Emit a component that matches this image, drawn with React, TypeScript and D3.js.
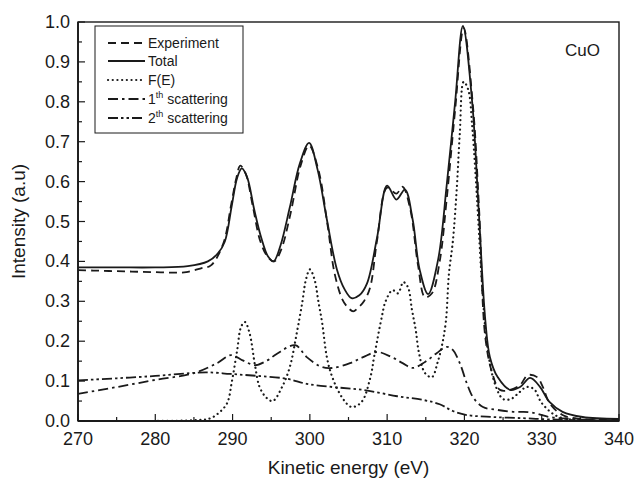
import React from "react";
import * as d3 from "d3";

const xTicks = [270, 280, 290, 300, 310, 320, 330, 340];
const yTicks = [0, 0.1, 0.2, 0.3, 0.4, 0.5, 0.6, 0.7, 0.8, 0.9, 1.0];

const expX = [270, 272, 274, 276, 278, 280, 282, 284, 286, 287.2, 288.8, 289.8, 290.5, 291.0, 291.7, 292.6, 293.6, 294.6, 295.4, 296.3, 297.5, 298.8, 299.9, 301.1, 302.3, 303.2, 304.2, 304.9, 305.6, 306.2, 307.0, 307.8, 308.7, 310.0, 311.2, 312.0, 313.0, 314.0, 314.9, 315.8, 316.8, 317.7, 318.8, 319.9, 321.1, 321.9, 322.7, 323.6, 324.6, 325.9, 327.2, 328.2, 329.4, 330.2, 331, 332.7, 335, 340];
const expY = [0.378, 0.377, 0.376, 0.375, 0.374, 0.373, 0.372, 0.373, 0.383, 0.39, 0.445, 0.54, 0.61, 0.64, 0.62, 0.54, 0.45, 0.41, 0.40, 0.43, 0.52, 0.64, 0.69, 0.63, 0.49, 0.37, 0.305, 0.285, 0.275, 0.283, 0.30, 0.335, 0.453, 0.585, 0.57, 0.587, 0.53, 0.39, 0.31, 0.32, 0.40, 0.555, 0.78, 0.985, 0.79, 0.53, 0.21, 0.12, 0.078, 0.078, 0.09, 0.115, 0.11, 0.083, 0.045, 0.015, 0.005, 0.003];

const totX = [270, 275, 280, 284.2, 286.8, 288.1, 289.0, 289.9, 290.6, 291.2, 291.9, 292.8, 293.7, 294.6, 295.3, 296.2, 297.4, 298.7, 299.9, 301.0, 302.2, 303.5, 304.5, 305.4, 306.4, 307.4, 308.7, 310.0, 311.2, 312.3, 313.3, 314.2, 315.3, 316.6, 317.7, 318.8, 319.8, 321.0, 321.8, 322.7, 323.3, 324.3, 325.9, 327.2, 328.5, 329.8, 331, 332.7, 335.3, 340];
const totY = [0.385, 0.385, 0.385, 0.388, 0.40, 0.42, 0.45, 0.54, 0.61, 0.633, 0.61, 0.53, 0.46, 0.412, 0.40, 0.44, 0.535, 0.645, 0.697, 0.63, 0.505, 0.38, 0.33, 0.308, 0.315, 0.345, 0.46, 0.59, 0.555, 0.58, 0.505, 0.38, 0.318, 0.405, 0.59, 0.80, 0.99, 0.80, 0.545, 0.253, 0.16, 0.11, 0.078, 0.085, 0.108, 0.085, 0.048, 0.023, 0.01, 0.005];

const feX = [270, 280, 285, 287, 288.2, 289.3, 289.9, 290.6, 291.1, 291.6, 292.2, 292.9, 293.5, 294.4, 295.2, 296.4, 297.4, 298.3, 299.0, 299.5, 300.0, 300.6, 301.1, 301.6, 302.2, 302.9, 304.2, 305.4, 306.7, 307.8, 308.4, 309.3, 309.8, 310.7, 311.4, 312.1, 312.7, 313.2, 313.7, 314.1, 314.9, 315.8, 316.5, 317.1, 317.6, 318.0, 318.5, 319.0, 319.4, 319.9, 320.5, 321.0, 321.4, 321.8, 322.3, 323, 324, 325, 326, 327, 328, 329, 330, 332, 335, 340];
const feY = [0, 0, 0.002, 0.006, 0.02, 0.045, 0.098, 0.178, 0.236, 0.248, 0.22, 0.14, 0.085, 0.058, 0.05, 0.085, 0.135, 0.22, 0.295, 0.355, 0.38, 0.355, 0.30, 0.245, 0.16, 0.11, 0.058, 0.035, 0.048, 0.107, 0.17, 0.26, 0.30, 0.328, 0.32, 0.348, 0.335, 0.28, 0.228, 0.173, 0.12, 0.11, 0.145, 0.19, 0.25, 0.37, 0.45, 0.58, 0.72, 0.85, 0.83, 0.74, 0.63, 0.50, 0.336, 0.18, 0.09, 0.055, 0.055, 0.07, 0.085, 0.08, 0.045, 0.012, 0.002, 0];

const s1X = [270, 275, 280, 285, 288, 289.8, 291.3, 292.9, 294.5, 295.7, 298.1, 299.6, 301.6, 303.0, 305.2, 306.9, 308.7, 310.6, 312.0, 313.3, 314.9, 316.4, 317.7, 318.5, 319.4, 320.3, 321.1, 322.4, 324.2, 326.3, 328.5, 331, 333.3, 336, 340];
const s1Y = [0.068, 0.085, 0.103, 0.12, 0.145, 0.165, 0.152, 0.14, 0.152, 0.168, 0.19, 0.16, 0.135, 0.133, 0.145, 0.16, 0.173, 0.16, 0.145, 0.133, 0.148, 0.17, 0.186, 0.178, 0.145, 0.095, 0.06, 0.035, 0.028, 0.023, 0.022, 0.01, 0.006, 0.003, 0.001];

const s2X = [270, 275, 280, 284.5, 286.7, 289.7, 293.2, 297.0, 299.6, 303.0, 306.9, 311.3, 314.6, 316.8, 318.5, 320.3, 323.7, 327.6, 331, 335, 340];
const s2Y = [0.102, 0.107, 0.113, 0.12, 0.122, 0.118, 0.113, 0.106, 0.093, 0.085, 0.078, 0.062, 0.053, 0.042, 0.025, 0.015, 0.01, 0.007, 0.004, 0.002, 0.001];

const W = 635, H = 480;
const L = 78, R = 619, T = 22, B = 421;
const INK = "#1a1a1a";
const FONT = "'Liberation Sans', Arial, sans-serif";

export default function App() {
  const x = d3.scaleLinear().domain([270, 340]).range([L, R]);
  const y = d3.scaleLinear().domain([0, 1]).range([B, T]);
  const line = d3
    .line<[number, number]>()
    .x((d) => x(d[0]))
    .y((d) => y(d[1]))
    .curve(d3.curveCatmullRom.alpha(0.5));
  const zip = (a: number[], b: number[]) => a.map((v, i) => [v, b[i]] as [number, number]);

  const series = [
    { name: "Experiment", d: line(zip(expX, expY)), dash: "8 5", w: 1.8, cap: "butt" },
    { name: "Total", d: line(zip(totX, totY)), dash: "none", w: 1.8, cap: "butt" },
    { name: "F(E)", d: line(zip(feX, feY)), dash: "0.1 4.6", w: 2.2, cap: "round" },
    { name: "s1", d: line(zip(s1X, s1Y)), dash: "10 4 2.5 4", w: 1.8, cap: "butt" },
    { name: "s2", d: line(zip(s2X, s2Y)), dash: "10 3 2.5 3 2.5 3", w: 1.8, cap: "butt" },
  ];

  const xMinor = d3.range(275, 340, 10);
  const yMinor = d3.range(0.05, 1, 0.1);

  const legY = [43, 61, 80, 99, 118];

  return (
    <svg width={W} height={H} style={{ position: "absolute", left: 0, top: 0, background: "#fff" }} fontFamily={FONT}>
      <rect x={0} y={0} width={W} height={H} fill="#fff" />
      <defs>
        <clipPath id="plot">
          <rect x={L} y={T - 2} width={R - L} height={B - T + 2} />
        </clipPath>
      </defs>
      <g clipPath="url(#plot)">
        {series.map((s) => (
          <path key={s.name} d={s.d || ""} fill="none" stroke={INK} strokeWidth={s.w}
            strokeDasharray={s.dash} strokeLinecap={s.cap as any} strokeLinejoin="round" />
        ))}
      </g>
      <rect x={L} y={T} width={R - L} height={B - T} fill="none" stroke={INK} strokeWidth={1.4} />
      <line x1={L} x2={R} y1={B} y2={B} stroke={INK} strokeWidth={2.2} />
      <line x1={L} x2={L} y1={T} y2={B} stroke={INK} strokeWidth={1.8} />
      {xTicks.map((t) => (
        <g key={"xt" + t}>
          <line x1={x(t)} x2={x(t)} y1={B} y2={B - 7} stroke={INK} strokeWidth={1.2} />
          <text x={x(t)} y={B + 24} textAnchor="middle" fontSize={18} fill={INK}>{t}</text>
        </g>
      ))}
      {xMinor.map((t) => (
        <line key={"xm" + t} x1={x(t)} x2={x(t)} y1={B} y2={B - 4} stroke={INK} strokeWidth={1.2} />
      ))}
      {yTicks.map((t) => (
        <g key={"yt" + t}>
          <line x1={L} x2={L + 7} y1={y(t)} y2={y(t)} stroke={INK} strokeWidth={1.2} />
          <text x={L - 8} y={y(t) + 6} textAnchor="end" fontSize={18} fill={INK}>{t.toFixed(1)}</text>
        </g>
      ))}
      {yMinor.map((t) => (
        <line key={"ym" + t} x1={L} x2={L + 4} y1={y(t)} y2={y(t)} stroke={INK} strokeWidth={1.2} />
      ))}
      <text x={(L + R) / 2} y={474} textAnchor="middle" fontSize={19} fill={INK}>Kinetic energy (eV)</text>
      <text transform={`translate(25,${(T + B) / 2}) rotate(-90)`} textAnchor="middle" fontSize={19} fill={INK}>Intensity (a.u)</text>
      <text x={600} y={56} textAnchor="end" fontSize={17} fill={INK}>CuO</text>
      <rect x={95} y={26} width={148} height={107} fill="#fff" stroke={INK} strokeWidth={1} />
      {series.map((s, i) => (
        <line key={"lg" + i} x1={108} x2={145} y1={legY[i]} y2={legY[i]} stroke={INK} strokeWidth={s.w}
          strokeDasharray={s.dash} strokeLinecap={s.cap as any} />
      ))}
      <text x={148} y={legY[0] + 5} fontSize={14} fill={INK}>Experiment</text>
      <text x={148} y={legY[1] + 5} fontSize={14} fill={INK}>Total</text>
      <text x={148} y={legY[2] + 5} fontSize={14} fill={INK}>F(E)</text>
      <text x={148} y={legY[3] + 5} fontSize={14} fill={INK}>
        1<tspan fontSize={9} dy={-6}>th</tspan><tspan dy={6}> scattering</tspan>
      </text>
      <text x={148} y={legY[4] + 5} fontSize={14} fill={INK}>
        2<tspan fontSize={9} dy={-6}>th</tspan><tspan dy={6}> scattering</tspan>
      </text>
    </svg>
  );
}
